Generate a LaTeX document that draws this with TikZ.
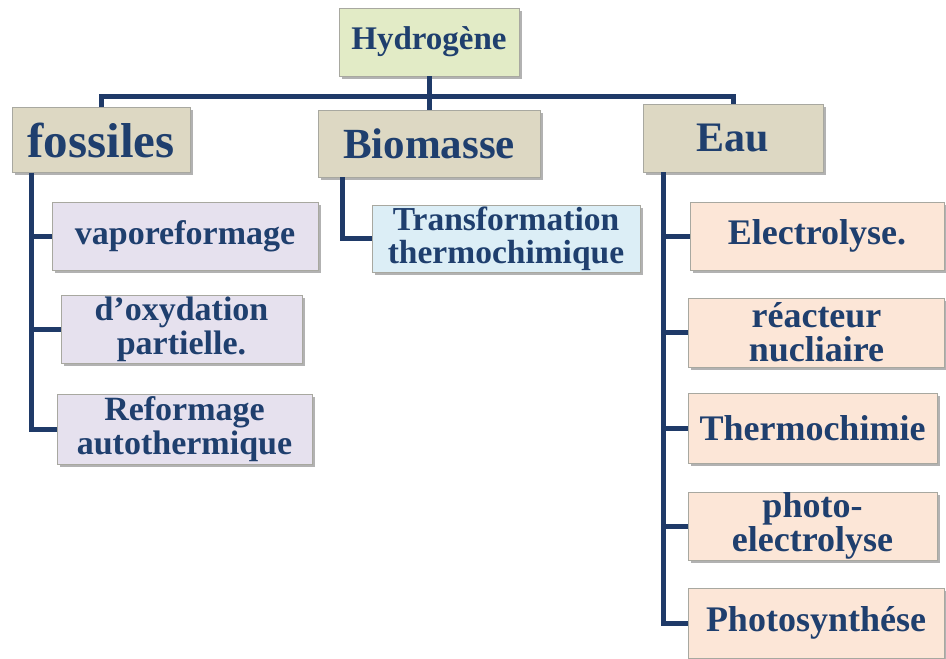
\documentclass[tikz,border=0pt]{standalone}
\usepackage{fontspec}
\setmainfont{Liberation Serif}
\usetikzlibrary{shadows}
\definecolor{txtblue}{HTML}{1F3F6E}
\definecolor{linenavy}{HTML}{1F3A68}
\definecolor{hgreen}{HTML}{E2EBC6}
\definecolor{beige}{HTML}{DDD8C3}
\definecolor{lav}{HTML}{E6E1EE}
\definecolor{lblue}{HTML}{DCEEF6}
\definecolor{peach}{HTML}{FCE6D7}
\definecolor{bordergray}{HTML}{A8A8A0}
\begin{document}
\begin{tikzpicture}[x=1pt,y=-1pt,
  box/.style={draw=bordergray, line width=0.8pt, inner sep=0pt, align=center,
    text=txtblue, font=\bfseries,
    drop shadow={shadow xshift=2.5pt, shadow yshift=-2.5pt, fill=black, opacity=0.3}},
  conn/.style={draw=linenavy, line width=5pt, line join=miter},
  fossub/.style={box, fill=lav, font=\bfseries\fontsize{34}{33.5}\selectfont},
  eausub/.style={box, fill=peach, font=\bfseries\fontsize{36}{34}\selectfont}
]
\useasboundingbox (0,0) rectangle (946,659);
% top
\node[box, fill=hgreen, minimum width=180pt, minimum height=68pt, font=\bfseries\fontsize{33}{33}\selectfont] (H) at (429,42) {Hydrogène};
\node[box, fill=beige, minimum width=178pt, minimum height=65pt, font=\bfseries\fontsize{49}{49}\selectfont] (fos) at (101,140) {fossiles};
\node[box, fill=beige, minimum width=222pt, minimum height=67pt, font=\bfseries\fontsize{43}{43}\selectfont] (bio) at (429,143.5) {Biomasse};
\node[box, fill=beige, minimum width=180pt, minimum height=68pt, font=\bfseries\fontsize{42}{42}\selectfont] (eau) at (733,138) {Eau};
% fossiles children
\node[fossub, minimum width=266pt, minimum height=68pt] (vap) at (185,236) {vaporeformage};
\node[fossub, minimum width=241pt, minimum height=68pt] (oxy) at (181.5,329.5) {d’oxydation\\partielle.};
\node[fossub, minimum width=255pt, minimum height=70pt] (ref) at (184.5,429) {Reformage\\autothermique};
% biomasse child
\node[box, fill=lblue, minimum width=268pt, minimum height=67pt, font=\bfseries\fontsize{33.5}{33}\selectfont] (tra) at (506,238.5) {Transformation\\thermochimique};
% eau children
\node[eausub, minimum width=254pt, minimum height=68pt] (ele) at (817,236) {Electrolyse.};
\node[eausub, minimum width=256pt, minimum height=69pt] (rea) at (816.5,332.5) {réacteur\\nucliaire};
\node[eausub, minimum width=249pt, minimum height=70pt] (the) at (812.5,428) {Thermochimie};
\node[eausub, minimum width=249pt, minimum height=68pt] (pho) at (812.5,526) {photo-\\electrolyse};
\node[eausub, minimum width=256pt, minimum height=70pt] (phs) at (816,623) {Photosynthése};
% connectors
\coordinate (barL) at (101,96);
\coordinate (ft) at (31,172.5);
\coordinate (bt) at (342,177);
\coordinate (et) at (663,172);
\begin{scope}[on background layer/.try]
\draw[conn] (fos.north) -- (barL) -- (barL -| eau.north) -- (eau.north);
\draw[conn] (H.south) -- (bio.north);
\draw[conn] (ft) |- (ref.west);
\draw[conn] (vap.west) -- (vap.west -| ft);
\draw[conn] (oxy.west) -- (oxy.west -| ft);
\draw[conn] (bt) |- (tra.west);
\draw[conn] (et) |- (phs.west);
\draw[conn] (ele.west) -- (ele.west -| et);
\draw[conn] (rea.west) -- (rea.west -| et);
\draw[conn] (the.west) -- (the.west -| et);
\draw[conn] (pho.west) -- (pho.west -| et);
\end{scope}
\end{tikzpicture}
\end{document}
